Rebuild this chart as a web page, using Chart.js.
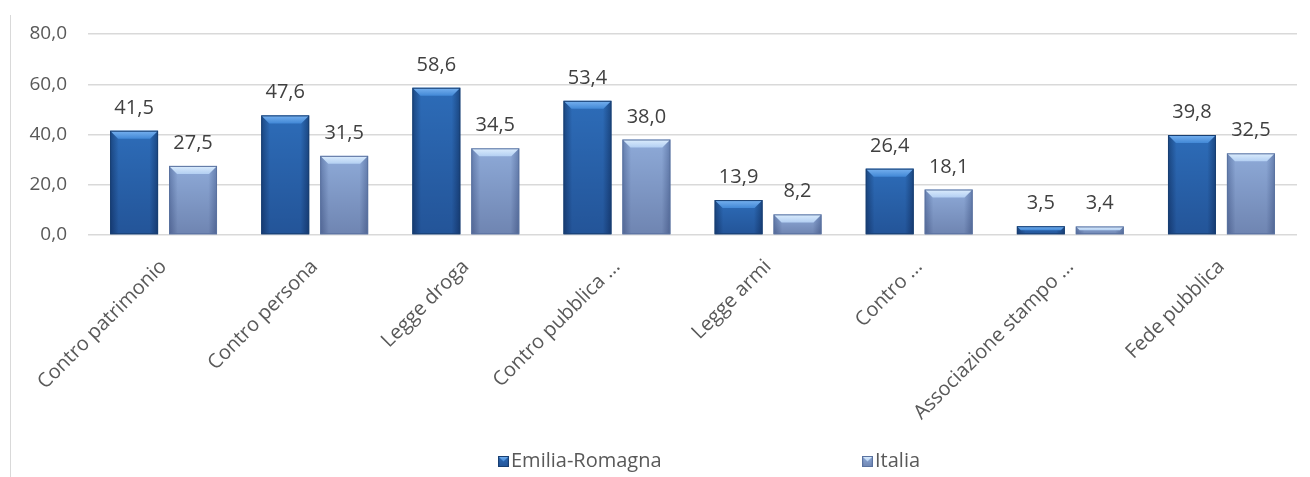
<!DOCTYPE html>
<html>
<head>
<meta charset="utf-8">
<script src="https://cdn.jsdelivr.net/npm/chart.js@4.4.1/dist/chart.umd.min.js"></script>
<style>
  html, body { margin: 0; padding: 0; background: #fff; }
  #wrap { position: relative; width: 1310px; height: 477px; }
  #frame { position: absolute; left: 10px; top: 15px; width: 1px; height: 462px; background: #d9d9d9; }
</style>
</head>
<body>
<div id="wrap">
  <div id="frame"></div>
  <canvas id="chart_reati" width="1310" height="477"></canvas>
</div>
<script>
/* dati */
var categorie = ["Contro patrimonio", "Contro persona", "Legge droga", "Contro pubblica ...",
                 "Legge armi", "Contro ...", "Associazione stampo ...", "Fede pubblica"];
var serie = ["Emilia-Romagna", "Italia"];
var valori_er = [41.5, 47.6, 58.6, 53.4, 13.9, 26.4, 3.5, 39.8];
var valori_it = [27.5, 31.5, 34.5, 38.0, 8.2, 18.1, 3.4, 32.5];
var tick_y = [0, 20, 40, 60, 80];

var FONT = "'Open Sans', sans-serif";
var testo = "#595959";

// colori bevel per serie
var stili = [
    { edge: "#1b4883", mid: "#2d6cb8", bevTop: "#78b2f0", bevBot: "#4288d6", line: "#183f72" },
    { edge: "#6680b0", mid: "#8eaad8", bevTop: "#dcedfd", bevBot: "#b3cff2", line: "#5a72a0" }
];

function virgola(v) {
    return v.toFixed(1).replace(".", ",");
}

function disegnaBarra(ctx, left, top, w, h, s) {
    if (h <= 0) return;
    var g = ctx.createLinearGradient(left, 0, left + w, 0);
    g.addColorStop(0, s.edge);
    g.addColorStop(0.18, s.mid);
    g.addColorStop(0.82, s.mid);
    g.addColorStop(1, s.edge);
    ctx.fillStyle = g;
    ctx.fillRect(left, top, w, h);

    var sh = ctx.createLinearGradient(0, top, 0, top + h);
    sh.addColorStop(0, "rgba(0,0,40,0)");
    sh.addColorStop(1, "rgba(0,0,40,0.22)");
    ctx.fillStyle = sh;
    ctx.fillRect(left, top, w, h);

    var b = Math.min(8, h / 2);
    var bg = ctx.createLinearGradient(0, top, 0, top + b);
    bg.addColorStop(0, s.bevTop);
    bg.addColorStop(1, s.bevBot);
    ctx.fillStyle = bg;
    ctx.beginPath();
    ctx.moveTo(left, top);
    ctx.lineTo(left + w, top);
    ctx.lineTo(left + w - b, top + b);
    ctx.lineTo(left + b, top + b);
    ctx.closePath();
    ctx.fill();

    ctx.strokeStyle = s.line;
    ctx.lineWidth = 1;
    ctx.strokeRect(left + 0.5, top + 0.5, w - 1, h - 1);
}

var pluginBarre = {
    id: "barreBevel",
    afterDatasetsDraw: function (chart) {
        var ctx = chart.ctx;
        ctx.save();
        chart.data.datasets.forEach(function (ds, di) {
            var meta = chart.getDatasetMeta(di);
            meta.data.forEach(function (bar, i) {
                var p = bar.getProps(["x", "y", "base", "width"], true);
                var left = p.x - p.width / 2;
                disegnaBarra(ctx, left, p.y, p.width, p.base - p.y, stili[di]);
                ctx.fillStyle = "#404040";
                ctx.font = "20px " + FONT;
                ctx.textAlign = "center";
                ctx.textBaseline = "alphabetic";
                ctx.fillText(virgola(ds.data[i]), p.x, p.y - 17);
            });
        });
        ctx.restore();
    }
};

var pluginLegenda = {
    id: "legendaSotto",
    afterDraw: function (chart) {
        var ctx = chart.ctx;
        var pos = [498, 862];
        var yc = 461;
        ctx.save();
        ctx.font = "20px " + FONT;
        ctx.textBaseline = "middle";
        ctx.textAlign = "left";
        serie.forEach(function (nome, i) {
            disegnaBarra(ctx, pos[i], yc - 5, 11, 11, stili[i]);
            ctx.fillStyle = testo;
            ctx.fillText(nome, pos[i] + 13, yc);
        });
        ctx.restore();
    }
};

var ctx = document.getElementById("chart_reati").getContext("2d");
var grafico = new Chart(ctx, {
    type: "bar",
    data: {
        labels: categorie,
        datasets: [
            { label: serie[0], data: valori_er, backgroundColor: "rgba(0,0,0,0)", borderWidth: 0,
              categoryPercentage: 0.78, barPercentage: 0.814 },
            { label: serie[1], data: valori_it, backgroundColor: "rgba(0,0,0,0)", borderWidth: 0,
              categoryPercentage: 0.78, barPercentage: 0.814 }
        ]
    },
    options: {
        responsive: false,
        animation: false,
        layout: { padding: { top: 34, right: 13, left: 0, bottom: 0 } },
        plugins: {
            legend: { display: false },
            tooltip: { enabled: false }
        },
        scales: {
            x: {
                grid: { display: false },
                border: { display: false },
                ticks: {
                    color: testo,
                    font: { family: FONT, size: 20 },
                    maxRotation: 45,
                    minRotation: 45,
                    padding: 12,
                    autoSkip: false
                },
                afterFit: function (scale) { scale.height = 242; }
            },
            y: {
                min: 0,
                max: 80,
                afterBuildTicks: function (scale) {
                    scale.ticks = tick_y.map(function (v) { return { value: v }; });
                },
                grid: { color: "#d9d9d9", drawTicks: false, lineWidth: 1.5 },
                border: { display: false },
                ticks: {
                    color: testo,
                    font: { family: FONT, size: 19 },
                    padding: 21,
                    callback: function (v) { return virgola(v); }
                },
                afterFit: function (scale) { scale.width = 88; }
            }
        }
    },
    plugins: [pluginBarre, pluginLegenda]
});
</script>
</body>
</html>
